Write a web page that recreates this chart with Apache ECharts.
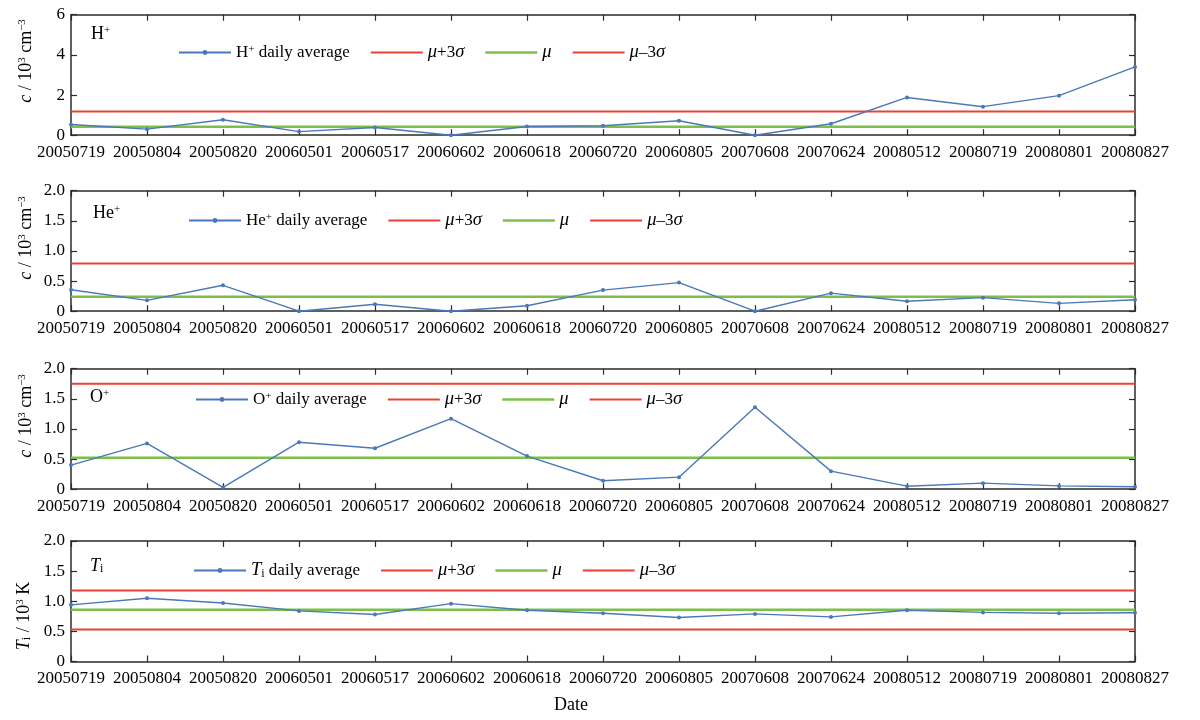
<!DOCTYPE html>
<html>
<head>
<meta charset="utf-8">
<script src="https://cdn.jsdelivr.net/npm/echarts@6/dist/echarts.min.js"></script>
<style>
html,body{margin:0;padding:0;background:#fff;}
#chart{width:1200px;height:720px;}
</style>
</head>
<body>
<div id="chart"></div>
<script>
// ---------- data ----------
const dates = ['20050719','20050804','20050820','20060501','20060517','20060602','20060618',
  '20060720','20060805','20070608','20070624','20080512','20080719','20080801','20080827'];
const hPlus  = [0.53,0.30,0.77,0.18,0.38,0.00,0.43,0.47,0.72,0.00,0.57,1.88,1.42,1.97,3.40];
const hePlus = [0.355,0.18,0.43,0.00,0.115,0.00,0.09,0.35,0.475,0.00,0.30,0.165,0.225,0.13,0.19];
const oPlus  = [0.40,0.76,0.03,0.78,0.68,1.17,0.55,0.14,0.20,1.36,0.30,0.05,0.10,0.055,0.04];
const tiVals = [0.94,1.05,0.97,0.84,0.78,0.96,0.85,0.80,0.73,0.79,0.74,0.85,0.815,0.80,0.81];
const muVals    = [0.42, 0.24, 0.52, 0.86];
const upperVals = [1.18, 0.79, 1.75, 1.18];
const lowerVals = [-0.34, -0.31, -0.71, 0.53];
const yMaxes    = [6, 2, 2, 2];
const yIntervals = [2, 0.5, 0.5, 0.5];
const dailyNames = ['H+ daily average','He+ daily average','O+ daily average','Ti daily average'];
const nameUp = 'μ+3σ', nameMu = 'μ', nameLow = 'μ–3σ';
const xTitle = 'Date';

// ---------- styling ----------
const FONT = '"Liberation Serif","Times New Roman",serif';
const BLUE = '#4a78b8', RED = '#ea4236', GREEN = '#7cc04a', AX = '#2b2b2b';
const gridTops = [14.7, 190.7, 368.7, 541];
const gridH = 120.5, gridL = 71, gridR = 65;
const legendLeft = [178, 188, 195, 193];
const legendCY = [54, 222, 401, 572];
const panelLabelPos = [[91, 36], [93, 215], [90, 399], [90, 568]];
const yNamePos = [[26, 61], [26, 238], [26, 416], [24, 616]];

const richBase = {
  n:   {fontFamily: FONT, fontSize: 18, color: '#000'},
  it:  {fontFamily: FONT, fontSize: 18, color: '#000', fontStyle: 'italic'},
  sup: {fontFamily: FONT, fontSize: 11, color: '#000', verticalAlign: 'top'},
  sub: {fontFamily: FONT, fontSize: 12, color: '#000', verticalAlign: 'bottom'}
};
const richLegend = {
  n:   {fontFamily: FONT, fontSize: 17, color: '#000'},
  it:  {fontFamily: FONT, fontSize: 18.5, color: '#000', fontStyle: 'italic'},
  sup: {fontFamily: FONT, fontSize: 11, color: '#000', verticalAlign: 'top'},
  sub: {fontFamily: FONT, fontSize: 12, color: '#000', verticalAlign: 'bottom'}
};
const legendRich = {
  'H+ daily average':  '{n|H}{sup|+}{n| daily average}',
  'He+ daily average': '{n|He}{sup|+}{n| daily average}',
  'O+ daily average':  '{n|O}{sup|+}{n| daily average}',
  'Ti daily average':  '{it|T}{sub|i}{n| daily average}',
  'μ+3σ': '{it|μ}{n|+3}{it|σ}',
  'μ': '{it|μ}',
  'μ–3σ': '{it|μ}{n|–3}{it|σ}'
};
const panelLabels = ['{n|H}{sup|+}', '{n|He}{sup|+}', '{n|O}{sup|+}', '{it|T}{sub|i}'];
const yNames = [
  '{it|c}{n| / 10}{sup|3}{n| cm}{sup|−3}',
  '{it|c}{n| / 10}{sup|3}{n| cm}{sup|−3}',
  '{it|c}{n| / 10}{sup|3}{n| cm}{sup|−3}',
  '{it|T}{sub|i}{n| / 10}{sup|3}{n| K}'
];
const seriesData = [hPlus, hePlus, oPlus, tiVals];
const iconRed = 'path://M0 0H100V4H0Z';
const iconGreen = 'path://M0 0H100V5H0Z';

const grids = [], xAxes = [], yAxes = [], series = [], legends = [], graphics = [];
for (let i = 0; i < 4; i++) {
  grids.push({left: gridL, right: gridR, top: gridTops[i], height: gridH});
  const tickStyle = {show: true, inside: true, length: 6, lineStyle: {color: AX, width: 1.2}};
  xAxes.push({
    type: 'category', gridIndex: i, data: dates, boundaryGap: false, position: 'bottom',
    axisLine: {onZero: false, lineStyle: {color: AX, width: 1.5}},
    axisTick: tickStyle,
    axisLabel: {interval: 0, color: '#000', fontFamily: FONT, fontSize: 17, margin: 9},
    splitLine: {show: false}
  });
  xAxes.push({
    type: 'category', gridIndex: i, data: dates, boundaryGap: false, position: 'top',
    axisLine: {onZero: false, lineStyle: {color: AX, width: 1.5}},
    axisTick: tickStyle, axisLabel: {show: false}, splitLine: {show: false}
  });
  const fmt = (v) => (v === 0 ? '0' : (yIntervals[i] < 1 ? v.toFixed(1) : String(v)));
  yAxes.push({
    type: 'value', gridIndex: i, min: 0, max: yMaxes[i], interval: yIntervals[i], position: 'left',
    axisLine: {show: true, onZero: false, lineStyle: {color: AX, width: 1.5}},
    axisTick: tickStyle,
    axisLabel: {color: '#000', fontFamily: FONT, fontSize: 17, margin: 6, formatter: fmt},
    splitLine: {show: false}
  });
  yAxes.push({
    type: 'value', gridIndex: i, min: 0, max: yMaxes[i], interval: yIntervals[i], position: 'right',
    axisLine: {show: true, onZero: false, lineStyle: {color: AX, width: 1.5}},
    axisTick: tickStyle, axisLabel: {show: false}, splitLine: {show: false}
  });
  const common = {type: 'line', xAxisIndex: 2 * i, yAxisIndex: 2 * i, symbol: 'none', silent: true, clip: true};
  series.push(Object.assign({}, common, {name: nameUp, data: dates.map(() => upperVals[i]),
    lineStyle: {color: RED, width: 2}, itemStyle: {color: RED}}));
  series.push(Object.assign({}, common, {name: nameMu, data: dates.map(() => muVals[i]),
    lineStyle: {color: GREEN, width: 2.5}, itemStyle: {color: GREEN}}));
  series.push(Object.assign({}, common, {name: nameLow, data: dates.map(() => lowerVals[i]),
    lineStyle: {color: RED, width: 2}, itemStyle: {color: RED}}));
  series.push({type: 'line', name: dailyNames[i], xAxisIndex: 2 * i, yAxisIndex: 2 * i,
    data: seriesData[i], symbol: 'circle', symbolSize: 4, showSymbol: true, clip: false,
    lineStyle: {color: BLUE, width: 1.4}, itemStyle: {color: BLUE}, z: 5});
  legends.push({
    data: [
      {name: dailyNames[i]},
      {name: nameUp, icon: iconRed},
      {name: nameMu, icon: iconGreen},
      {name: nameLow, icon: iconRed}
    ],
    left: legendLeft[i], top: legendCY[i] - 11, padding: 0,
    itemWidth: 52, itemHeight: 6, itemGap: 21, selectedMode: false,
    formatter: (n) => legendRich[n],
    textStyle: {fontFamily: FONT, fontSize: 17, color: '#000', rich: richLegend}
  });
  graphics.push({
    type: 'text', left: panelLabelPos[i][0], top: panelLabelPos[i][1] - 11,
    style: {text: panelLabels[i], rich: richBase, fontFamily: FONT, fontSize: 18, fill: '#000'}
  });
  graphics.push({
    type: 'text', x: yNamePos[i][0], y: yNamePos[i][1], rotation: Math.PI / 2,
    style: {text: yNames[i], rich: richBase, fontFamily: FONT, fontSize: 18, fill: '#000',
      align: 'center', verticalAlign: 'middle'}
  });
}
graphics.push({
  type: 'text', x: 571, y: 705,
  style: {text: xTitle, fontFamily: FONT, fontSize: 18, fill: '#000', align: 'center', verticalAlign: 'middle'}
});

const chart = echarts.init(document.getElementById('chart'));
chart.setOption({
  animation: false,
  backgroundColor: '#fff',
  grid: grids, xAxis: xAxes, yAxis: yAxes, series: series, legend: legends, graphic: graphics
});
</script>
</body>
</html>
